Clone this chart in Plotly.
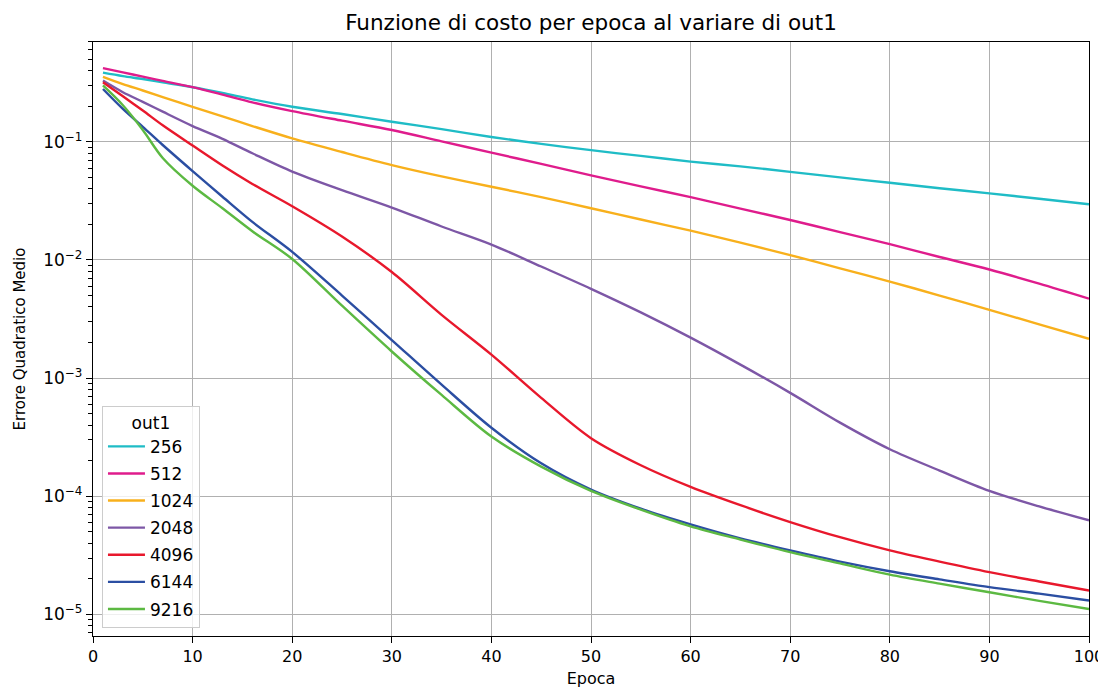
import plotly.graph_objects as go

epochs = [1, 3, 5, 7, 10, 13, 16, 20, 25, 30, 35, 40, 45, 50, 55, 60, 65, 70, 75, 80, 85, 90, 95, 100]

series_names = ["256", "512", "1024", "2048", "4096", "6144", "9216"]

mse_256 = [0.385, 0.36, 0.34, 0.319, 0.29, 0.259, 0.229, 0.198, 0.172, 0.148, 0.128, 0.110, 0.096, 0.085,
           0.076, 0.068, 0.062, 0.0557, 0.050, 0.045, 0.0405, 0.0366, 0.033, 0.0296]
mse_512 = [0.42, 0.387, 0.356, 0.328, 0.29, 0.251, 0.216, 0.182, 0.151, 0.126, 0.101, 0.081, 0.065, 0.052,
           0.042, 0.034, 0.0272, 0.0218, 0.0172, 0.0136, 0.0106, 0.0083, 0.0063, 0.0047]
mse_1024 = [0.355, 0.308, 0.272, 0.239, 0.198, 0.164, 0.136, 0.107, 0.082, 0.0636, 0.051, 0.0417, 0.034,
            0.0274, 0.022, 0.0177, 0.014, 0.011, 0.0085, 0.00656, 0.005, 0.00378, 0.00285, 0.00215]
mse_2048 = [0.33, 0.263, 0.218, 0.18, 0.136, 0.106, 0.08, 0.056, 0.039, 0.0278, 0.0192, 0.0135, 0.0088,
            0.0057, 0.0036, 0.0022, 0.0013, 0.00075, 0.00042, 0.00025, 0.000165, 0.000111, 8.2e-5, 6.25e-5]
mse_4096 = [0.32, 0.243, 0.184, 0.138, 0.093, 0.063, 0.044, 0.0285, 0.0158, 0.0079, 0.00343, 0.00158,
            0.00068, 0.00031, 0.000183, 0.00012, 8.4e-5, 6.05e-5, 4.5e-5, 3.48e-5, 2.8e-5, 2.28e-5, 1.9e-5, 1.59e-5]
mse_6144 = [0.28, 0.19, 0.134, 0.094, 0.0565, 0.0343, 0.021, 0.0117, 0.005, 0.0021, 0.00088, 0.00038,
            0.00019, 0.000114, 7.85e-5, 5.78e-5, 4.4e-5, 3.48e-5, 2.8e-5, 2.32e-5, 1.98e-5, 1.70e-5, 1.5e-5, 1.31e-5]
mse_9216 = [0.30, 0.204, 0.126, 0.073, 0.0425, 0.0274, 0.0175, 0.0102, 0.0041, 0.00168, 0.00072, 0.00032,
            0.000178, 0.000111, 7.7e-5, 5.56e-5, 4.3e-5, 3.36e-5, 2.7e-5, 2.17e-5, 1.82e-5, 1.54e-5, 1.3e-5, 1.11e-5]

all_series = [mse_256, mse_512, mse_1024, mse_2048, mse_4096, mse_6144, mse_9216]
colors = ["#1fbcc6", "#df1c8c", "#f8b01c", "#7d57a6", "#e8182c", "#2b4ea2", "#5cb942"]

x_ticks = [0, 10, 20, 30, 40, 50, 60, 70, 80, 90, 100]
y_tick_vals = [1e-5, 1e-4, 1e-3, 1e-2, 1e-1]
y_tick_text = ["10<sup>\u22125</sup>", "10<sup>\u22124</sup>", "10<sup>\u22123</sup>",
               "10<sup>\u22122</sup>", "10<sup>\u22121</sup>"]

FONT = "DejaVu Sans, Verdana, sans-serif"

fig = go.Figure()
for name, vals, col in zip(series_names, all_series, colors):
    fig.add_trace(go.Scatter(
        x=epochs, y=vals, mode="lines", name=name, legendgroup=name,
        line=dict(color=col, width=2.4, shape="spline", smoothing=0.9),
    ))

minor_vals = []
for e in range(-6, 0):
    for m in range(2, 10):
        minor_vals.append(m * 10 ** e)

fig.update_layout(
    width=1098, height=680,
    margin=dict(l=85, r=17, t=34, b=52),
    paper_bgcolor="white", plot_bgcolor="white",
    font=dict(family=FONT, size=16, color="black"),
    title=dict(text="Funzione di costo per epoca al variare di out1", x=0.5, xref="paper",
               y=1 - 14 / 680, yanchor="middle", font=dict(size=21.5, color="black")),
    showlegend=True,
    legend=dict(
        x=0.009, y=0.014, xanchor="left", yanchor="bottom",
        bgcolor="rgba(255,255,255,0.8)", bordercolor="#cccccc", borderwidth=1,
        font=dict(size=17), itemwidth=37,
        title=dict(text="out1", side="top center", font=dict(size=17)),
        tracegroupgap=2,
    ),
)

fig.update_xaxes(
    range=[0, 100], tickvals=x_ticks, ticks="outside", ticklen=6, tickwidth=1.2, tickcolor="black",
    showline=True, linecolor="black", linewidth=1.3, mirror=True,
    showgrid=True, gridcolor="#b0b0b0", gridwidth=1.1, zeroline=False,
    tickfont=dict(size=16), automargin=False,
    title=dict(text="Epoca", font=dict(size=16), standoff=9),
)
fig.update_yaxes(
    type="log", range=[-5.183, -0.155], tickvals=y_tick_vals, ticktext=y_tick_text,
    ticks="outside", ticklen=6, tickwidth=1.2, tickcolor="black",
    showline=True, linecolor="black", linewidth=1.3, mirror=True,
    showgrid=True, gridcolor="#b0b0b0", gridwidth=1.1, zeroline=False,
    tickfont=dict(size=17), automargin=False,
    minor=dict(tickvals=minor_vals, ticks="outside", ticklen=3.5, tickcolor="black", showgrid=False),
    title=dict(text="Errore Quadratico Medio", font=dict(size=15), standoff=14),
)

fig.write_html("out.html")
